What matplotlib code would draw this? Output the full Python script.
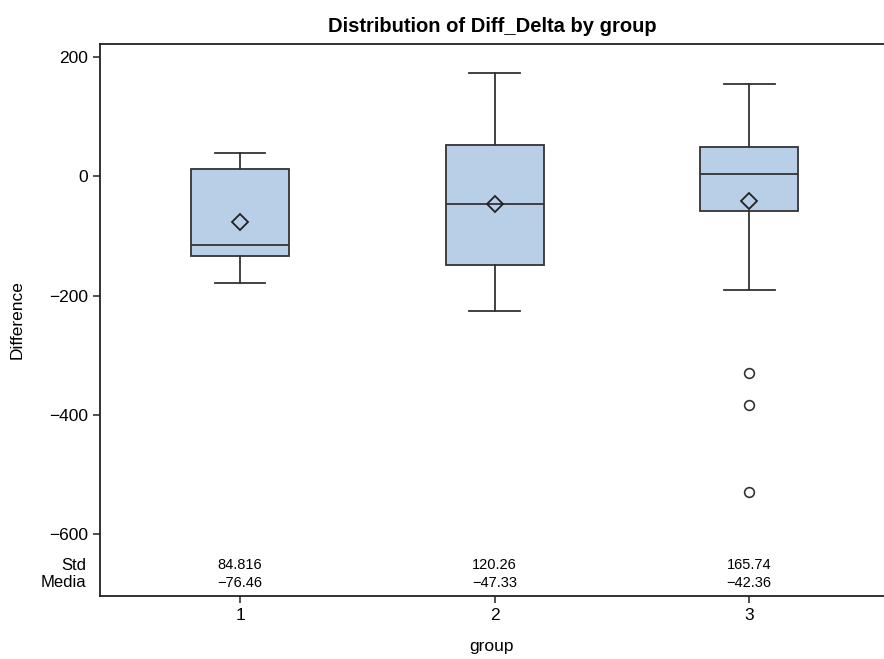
import matplotlib
matplotlib.use("Agg")
from matplotlib import pyplot as plt
from matplotlib import transforms

plt.rcParams['font.family'] = ['Liberation Sans', 'DejaVu Sans']

groups = [1, 2, 3]
whisker_low = [-179, -226, -191]
q1 = [-134, -149, -59]
medians = [-115, -47, 3]
q3 = [12, 52, 48]
whisker_high = [38, 172, 154]
means = [-76.46, -47.33, -42.36]
outliers = [[], [], [-330, -383, -529]]
std_labels = ["84.816", "120.26", "165.74"]
mean_labels = ["\u221276.46", "\u221247.33", "\u221242.36"]
y_ticks = [200, 0, -200, -400, -600]

fig = plt.figure(figsize=(8.84, 6.59), dpi=100)
ax = fig.add_axes([100 / 884, 63 / 659, 784 / 884, 552 / 659])

stats = []
for i in range(len(groups)):
    stats.append({
        'whislo': whisker_low[i], 'q1': q1[i], 'med': medians[i],
        'q3': q3[i], 'whishi': whisker_high[i], 'mean': means[i],
        'fliers': outliers[i], 'label': str(groups[i]),
    })

ax.bxp(stats, positions=groups, widths=0.385, capwidths=0.2, patch_artist=True,
       showmeans=True,
       boxprops=dict(facecolor='#b9cfe8', edgecolor='#333333', linewidth=1.3),
       medianprops=dict(color='#333333', linewidth=1.3),
       whiskerprops=dict(color='#333333', linewidth=1.3),
       capprops=dict(color='#333333', linewidth=1.3),
       meanprops=dict(marker='D', markerfacecolor='none', markeredgecolor='#222222',
                      markersize=8, markeredgewidth=1.3),
       flierprops=dict(marker='o', markerfacecolor='none', markeredgecolor='#333333',
                       markersize=7, markeredgewidth=1.2))

ax.set_xlim(0.45, 3.53)
ax.set_ylim(-703, 221)
ax.set_yticks(y_ticks)
ax.set_yticklabels([str(v).replace('-', '\u2212') for v in y_ticks])
ax.set_xticks(groups)
ax.set_xticklabels([str(g) for g in groups])
ax.tick_params(axis='both', labelsize=12.5, length=5, width=1.2, color='#333333')
ax.spines['right'].set_visible(False)
for s in ['left', 'top', 'bottom']:
    ax.spines[s].set_linewidth(1.3)
    ax.spines[s].set_color('#222222')

trans = transforms.blended_transform_factory(ax.transData, ax.transAxes)
for i, g in enumerate(groups):
    ax.text(g, 0.056, std_labels[i], transform=trans, ha='center', va='center', fontsize=10.5)
    ax.text(g, 0.0236, mean_labels[i], transform=trans, ha='center', va='center', fontsize=10.5)
ax.text(-0.018, 0.056, "Std", transform=ax.transAxes, ha='right', va='center', fontsize=12)
ax.text(-0.018, 0.0236, "Media", transform=ax.transAxes, ha='right', va='center', fontsize=12)

ax.set_title("Distribution of Diff_Delta by group", fontsize=14.5, fontweight='bold', pad=9)
ax.set_xlabel("group", fontsize=12.5, labelpad=12)
ax.set_ylabel("Difference", fontsize=12.5, labelpad=18)

fig.savefig("out.png", dpi=100)
